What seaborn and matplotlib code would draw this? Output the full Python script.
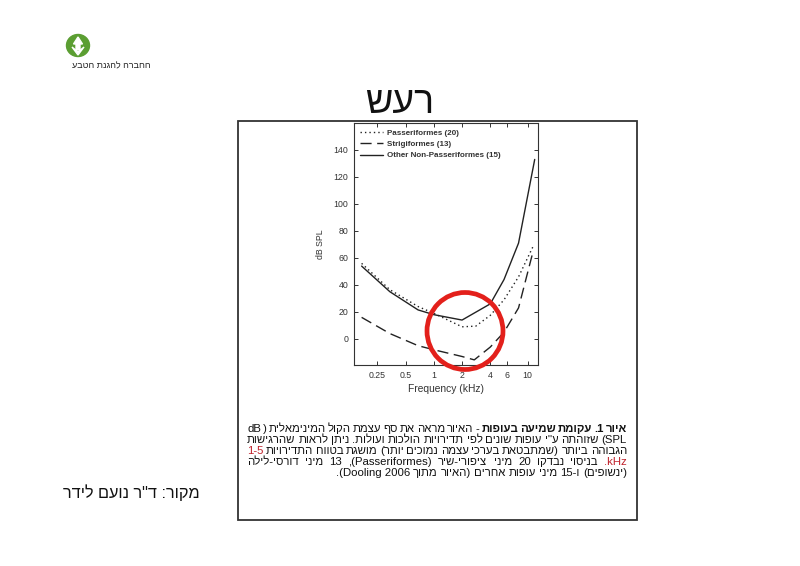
import re
import matplotlib
matplotlib.use('Agg')
import matplotlib.pyplot as plt
from matplotlib.patches import Rectangle, Ellipse, Polygon
from matplotlib.ticker import FixedLocator, NullLocator
import seaborn as sns

# נתוני העקומות (נקראו מהגרף)
freq_passer = [0.17, 0.34, 0.68, 1.0, 2.0, 2.8, 4.0, 5.6, 8.0, 11.7]
db_passer = [56, 36.5, 24, 19, 9, 9.5, 17.5, 29, 46, 70]
freq_strigi = [0.17, 0.34, 0.68, 1.0, 2.0, 2.7, 4.0, 5.6, 8.0, 11.3]
db_strigi = [16, 4, -5, -8, -13, -15.5, -6, 5, 23, 63.5]
freq_other = [0.17, 0.34, 0.68, 1.0, 2.0, 4.0, 5.6, 8.0, 11.9]
db_other = [54, 35, 21.5, 18, 14, 26, 44, 71, 133]

series_labels = ['Passeriformes (20)', 'Strigiformes (13)', 'Other Non-Passeriformes (15)']
x_ticks = [0.25, 0.5, 1, 2, 4, 6, 10]
x_tick_labels = ['0.25', '0.5', '1', '2', '4', '6', '10']
y_ticks = [0, 20, 40, 60, 80, 100, 120, 140]

title_text = 'רעש'
logo_text = 'החברה להגנת הטבע'
source_text = 'מקור: ד"ר נועם לידר'

# שורות הכיתוב בסדר לוגי
caption_lines = [
    'איור 1. עקומת שמיעה בעופות - האיור מראה את סף עצמת הקול המינימאלית ( dB',
    'SPL) שזוהתה ע"י עופות שונים לפי תדירויות הולכות ועולות. ניתן לראות שהרגישות',
    'הגבוהה ביותר (שמתבטאת בערכי עצמה נמוכים יותר) מושגת בטווח התדירויות 1-5',
    'kHz. בניסוי נבדקו 20 מיני ציפורי-שיר (Passeriformes), 13 מיני דורסי-לילה',
    '(ינשופים) ו-15 מיני עופות אחרים (האיור מתוך Dooling\u00a02006).',
]
bold_words = 5  # "איור 1. עקומת שמיעה בעופות"
red_words = ['1-5', 'kHz.']

MIRROR = str.maketrans('()', ')(')


def vis_token(tok):
    # סדר חזותי של מילה בפסקה מימין לשמאל
    if re.search('[\u0590-\u05ff]', tok):
        r = tok[::-1].translate(MIRROR)
        return re.sub('[A-Za-z0-9]+', lambda m: m.group(0)[::-1], r)
    m = re.match(r'^([^A-Za-z0-9]*)(.*?)([^A-Za-z0-9]*)$', tok)
    lead, core, trail = m.groups()
    return trail[::-1].translate(MIRROR) + core + lead[::-1].translate(MIRROR)


def vis_line(s):
    return ' '.join(vis_token(t) for t in s.split(' ')[::-1])


sns.set_style('ticks')
plt.rcParams['font.family'] = ['Liberation Sans', 'DejaVu Sans']

W, H = 800, 566
fig = plt.figure(figsize=(8, 5.66), dpi=100)
fig.patch.set_facecolor('white')


def fx(x):
    return x / W


def fy(y):
    return 1 - y / H


# מסגרת
fig.patches.append(Rectangle((fx(238), fy(520)), fx(399), 399 / H, transform=fig.transFigure,
                             fill=False, ec='#333333', lw=1.3))

# הגרף
ax = fig.add_axes([fx(354), fy(365), fx(184), 242 / H])
sns.lineplot(x=freq_passer, y=db_passer, ax=ax, color='#222222', lw=1.0, linestyle=(0, (1, 2.2)),
             label=series_labels[0])
sns.lineplot(x=freq_strigi, y=db_strigi, ax=ax, color='#222222', lw=1.0, linestyle=(0, (8, 4)),
             label=series_labels[1])
sns.lineplot(x=freq_other, y=db_other, ax=ax, color='#222222', lw=1.0, label=series_labels[2])
ax.set_xscale('log')
ax.set_xlim(0.141, 12.9)
ax.set_ylim(-19.3, 160)
ax.xaxis.set_major_locator(FixedLocator(x_ticks))
ax.xaxis.set_minor_locator(NullLocator())
ax.set_xticklabels(x_tick_labels)
ax.set_yticks(y_ticks)
ax.tick_params(direction='in', top=True, right=True, length=3, width=0.7, labelsize=6.3,
               colors='#333333', pad=4)
for sp in ax.spines.values():
    sp.set_linewidth(0.8)
    sp.set_color('#333333')
ax.set_xlabel('Frequency (kHz)', fontsize=7.4, color='#333333', labelpad=3)
ax.set_ylabel('dB SPL', fontsize=6.3, color='#333333', labelpad=6)
leg = ax.legend(loc='upper left', bbox_to_anchor=(0.03, 0.975), frameon=False, fontsize=5.8,
                handlelength=2.9, borderaxespad=0, borderpad=0, labelspacing=0.46,
                handletextpad=0.45)
for t in leg.get_texts():
    t.set_color('#333333')
    t.set_fontweight('bold')

# עיגול אדום
fig.patches.append(Ellipse((fx(465), fy(331)), fx(76), 77 / H, transform=fig.transFigure,
                           fill=False, ec='#e3201b', lw=3.4, zorder=10))

# כותרת
fig.text(fx(400), fy(103), vis_line(title_text), fontsize=27, ha='center', va='center', color='#111111')

# לוגו
fig.patches.append(Ellipse((fx(78), fy(45.5)), fx(23), 22 / H, transform=fig.transFigure,
                           color='#5b9e32', zorder=3))
fig.patches.append(Polygon([(fx(78), fy(37)), (fx(73.5), fy(44)), (fx(76), fy(44)), (fx(76), fy(50)),
                            (fx(80), fy(50)), (fx(80), fy(44)), (fx(82.5), fy(44))],
                           closed=True, transform=fig.transFigure, color='white', zorder=4))
fig.patches.append(Polygon([(fx(72), fy(47)), (fx(78), fy(55)), (fx(84), fy(47)), (fx(78), fy(52))],
                           closed=True, transform=fig.transFigure, color='white', zorder=4))
fig.text(fx(111), fy(66), vis_line(logo_text), fontsize=6.5, ha='center', va='center', color='#222222')

# מקור
fig.text(fx(131), fy(493), vis_line(source_text), fontsize=11.7, ha='center', va='center', color='#111111')

# כיתוב מיושר לשני הצדדים
renderer = fig.canvas.get_renderer()
cap_left, cap_right = 247, 627
baselines = [432, 443, 454, 465, 476]
cap_size = 8.2
sp_t = fig.text(0, 0, 'a a', fontsize=cap_size)
sp_w = sp_t.get_window_extent(renderer).width
sp_t.set_text('aa')
sp_w -= sp_t.get_window_extent(renderer).width
sp_t.remove()
for i, line in enumerate(caption_lines):
    toks = line.split(' ')
    items = []
    for j, tok in enumerate(toks):
        weight = 'bold' if (i == 0 and j < bold_words) else 'normal'
        color = '#c0202a' if tok in red_words else '#111111'
        items.append((vis_token(tok), weight, color))
    items = items[::-1]
    texts = []
    widths = []
    for s, weight, color in items:
        t = fig.text(0, fy(baselines[i]), s, fontsize=cap_size, fontweight=weight, color=color,
                     ha='left', va='baseline')
        texts.append(t)
        widths.append(t.get_window_extent(renderer).width)
    total = sum(widths)
    if i < len(caption_lines) - 1:
        gap = max((cap_right - cap_left - total) / (len(items) - 1), 1.5)
        x = cap_left
    else:
        gap = sp_w
        x = cap_right - total - gap * (len(items) - 1)
    for t, w in zip(texts, widths):
        t.set_x(fx(x))
        x += w + gap

fig.savefig('out.png', dpi=100)
